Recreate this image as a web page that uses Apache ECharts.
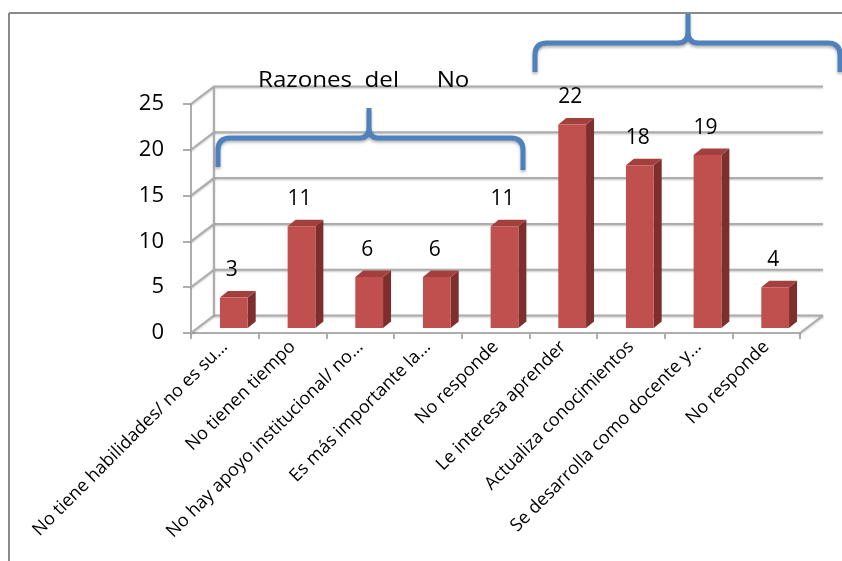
<!DOCTYPE html>
<html>
<head>
<meta charset="utf-8">
<script src="https://cdn.jsdelivr.net/npm/echarts@6/dist/echarts.min.js"></script>
<style>
html,body{margin:0;padding:0;background:#fff;}
#chart{width:842px;height:561px;}
</style>
</head>
<body>
<div id="chart"></div>
<script>
const categories = [
  "No tiene habilidades/ no es su...",
  "No tienen tiempo",
  "No hay apoyo institucional/ no...",
  "Es más importante la...",
  "No responde",
  "Le interesa aprender",
  "Actualiza conocimientos",
  "Se desarrolla como docente y...",
  "No responde"
];
const values = [3.33, 11.11, 5.56, 5.56, 11.11, 22.22, 17.78, 18.89, 4.44];
const yTicks = [0, 5, 10, 15, 20, 25];
const titleText = "Razones  del      No";

const FONT = "'Open Sans', 'Liberation Sans', sans-serif";
const DX = 23, DY = -17.5;       // depth of the 3D wall
const BX = 9, BY = -5;           // bar placement inside depth
const SX = 8, SY = -6.5;         // bar depth
const GRID_COLOR = '#adadad';

const BRACE_LEFT = 'M218,167 L218,150 Q218,138 230,138 L360,138 Q369,138 369,127 L369,108 M369,127 Q369,138 378,138 L511,138 Q523,138 523,150 L523,170';
const BRACE_RIGHT = 'M535,72 L535,55 Q535,43 547,43 L678,43 Q688,43 688,32 L688,13 M688,32 Q688,43 698,43 L828,43 Q840,43 840,55 L840,72';

const chart = echarts.init(document.getElementById('chart'), null, {renderer: 'canvas'});

function renderWall(params, api) {
  const cs = params.coordSys;
  const x0 = cs.x, x1 = cs.x + cs.width;
  const yB = api.coord([0, yTicks[0]])[1];
  const yT = api.coord([0, yTicks[yTicks.length - 1]])[1];
  const st = {stroke: GRID_COLOR, lineWidth: 2, fill: null,
    shadowBlur: 2, shadowColor: 'rgba(0,0,0,0.25)', shadowOffsetY: 1};
  const children = [];
  yTicks.forEach(function (v) {
    const y = api.coord([0, v])[1];
    children.push({type: 'polyline', shape: {points: [[x0, y], [x0 + DX, y + DY], [x1 + DX, y + DY]]}, style: st});
  });
  children.push({type: 'line', shape: {x1: x0 + DX, y1: yB + DY, x2: x0 + DX, y2: yT + DY}, style: st});
  children.push({type: 'line', shape: {x1: x1, y1: yB, x2: x1 + DX, y2: yB + DY}, style: st});
  return {type: 'group', children: children};
}

function renderBar(params, api) {
  const i = api.value(0), v = api.value(1);
  const base = api.coord([i, 0]);
  const top = api.coord([i, v]);
  const w = api.size([1, 0])[0] * 0.41;
  const cx = base[0] + BX;
  const by = base[1] + BY;
  const ty = top[1] + BY;
  const xl = cx - w / 2, xr = cx + w / 2;
  return {
    type: 'group',
    children: [
      {type: 'polygon', shape: {points: [[xr, ty], [xr + SX, ty + SY], [xr + SX, by + SY], [xr, by]]},
        style: {fill: '#7e2f2d'}},
      {type: 'polygon', shape: {points: [[xl, ty], [xl + SX, ty + SY], [xr + SX, ty + SY], [xr, ty]]},
        style: {fill: '#a3403d'}},
      {type: 'rect', shape: {x: xl, y: ty, width: w, height: by - ty},
        style: {fill: '#c0504d'}},
      {type: 'text', style: {text: String(Math.round(v)), x: cx - 2, y: ty - 27,
        textAlign: 'center', textVerticalAlign: 'middle',
        font: '21px ' + FONT, fill: '#000'}}
    ]
  };
}

function renderBraces(params, api) {
  const st = {stroke: '#4f81bd', lineWidth: 5, fill: null,
    shadowBlur: 3, shadowColor: 'rgba(0,0,0,0.3)', shadowOffsetY: 2};
  return {
    type: 'group',
    children: [
      {type: 'path', shape: {pathData: BRACE_LEFT}, style: st},
      {type: 'path', shape: {pathData: BRACE_RIGHT}, style: st}
    ]
  };
}

const option = {
  animation: false,
  backgroundColor: '#fff',
  grid: {left: 191, right: 42, top: 104, bottom: 228, containLabel: false},
  xAxis: {
    type: 'category',
    data: categories,
    axisLine: {show: true, lineStyle: {color: GRID_COLOR, width: 2}},
    axisTick: {show: true, length: 6, lineStyle: {color: GRID_COLOR, width: 2}},
    axisLabel: {rotate: 45, interval: 0, fontSize: 18, fontFamily: FONT, color: '#000', margin: 11},
    splitLine: {show: false}
  },
  yAxis: {
    type: 'value',
    min: 0, max: 25, interval: 5,
    axisLine: {show: true, lineStyle: {color: GRID_COLOR, width: 2}},
    axisTick: {show: true, length: 8, lineStyle: {color: GRID_COLOR, width: 2}},
    axisLabel: {fontSize: 22, fontFamily: FONT, color: '#000', margin: 27},
    splitLine: {show: false}
  },
  series: [
    {type: 'custom', renderItem: renderWall, data: [[0, 0]], encode: {x: 0, y: 1}, z: 1, silent: true},
    {type: 'custom', renderItem: renderBar, data: values.map(function (v, i) { return [i, v]; }),
      encode: {x: 0, y: 1}, z: 2},
    {type: 'custom', renderItem: renderBraces, data: [[0, 0]], encode: {x: 0, y: 1}, z: 5, silent: true, clip: false}
  ],
  graphic: [
    {type: 'line', shape: {x1: 9, y1: 13, x2: 9, y2: 561}, style: {stroke: '#8a8a8a', lineWidth: 2}, z: 10},
    {type: 'line', shape: {x1: 9, y1: 13, x2: 842, y2: 13}, style: {stroke: '#8a8a8a', lineWidth: 2}, z: 10},
    {type: 'text', x: 258, y: 81, scaleX: 1.15, style: {text: titleText, font: '21px ' + FONT, fill: '#000',
      x: 0, y: 0, textAlign: 'left', textVerticalAlign: 'middle'}, z: 10}
  ]
};
chart.setOption(option);
</script>
</body>
</html>
